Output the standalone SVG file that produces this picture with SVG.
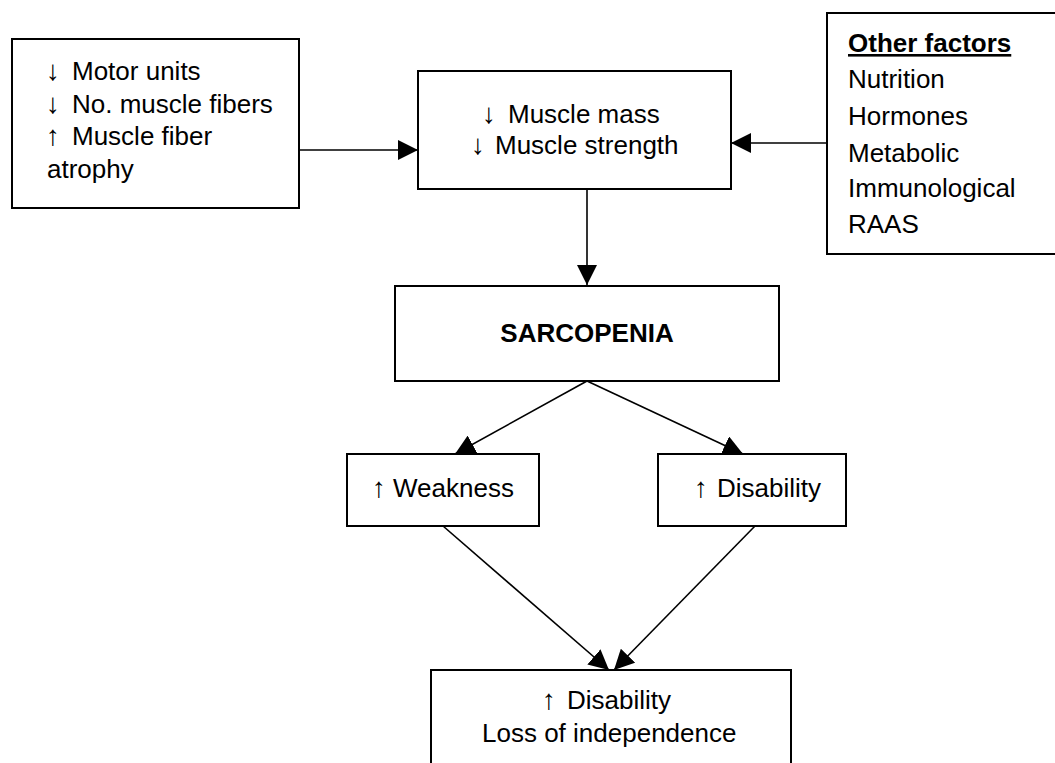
<svg xmlns="http://www.w3.org/2000/svg" width="1055" height="763" viewBox="0 0 1055 763">
<style>
.box{fill:#fff;stroke:#000;stroke-width:2}
.t{font-family:"Liberation Sans",Arial,sans-serif;font-size:26px;fill:#000}
.b{font-weight:bold}
.a{font-size:28px}
.c{stroke:#000;stroke-width:1.6;fill:none}
</style>
<defs>
<marker id="ah" markerUnits="userSpaceOnUse" markerWidth="20" markerHeight="20" refX="20" refY="10" orient="auto">
<path d="M0,0 L20,10 L0,20 z" fill="#000"/>
</marker>
</defs>
<rect width="1055" height="763" fill="#fff"/>
<g id="connectors">
<line class="c" x1="299" y1="150" x2="418" y2="150" marker-end="url(#ah)"/>
<line class="c" x1="827" y1="143" x2="731" y2="143" marker-end="url(#ah)"/>
<line class="c" x1="587" y1="189" x2="587" y2="285" marker-end="url(#ah)"/>
<line class="c" x1="587" y1="381" x2="455" y2="454" marker-end="url(#ah)"/>
<line class="c" x1="587" y1="381" x2="743" y2="454" marker-end="url(#ah)"/>
<line class="c" x1="443" y1="526" x2="609" y2="670" marker-end="url(#ah)"/>
<line class="c" x1="755" y1="526" x2="614" y2="670" marker-end="url(#ah)"/>
</g>
<g id="causes">
<rect class="box" x="12" y="39" width="287" height="169"/>
<text class="t" y="80"><tspan class="a" x="46">↓</tspan><tspan x="72">Motor units</tspan></text>
<text class="t" y="113"><tspan class="a" x="46">↓</tspan><tspan x="72">No. muscle fibers</tspan></text>
<text class="t" y="145"><tspan class="a" x="46">↑</tspan><tspan x="72">Muscle fiber</tspan></text>
<text class="t" x="47" y="178">atrophy</text>
</g>
<g id="muscle">
<rect class="box" x="418" y="71" width="313" height="118"/>
<text class="t" y="123"><tspan class="a" x="482">↓</tspan><tspan x="508">Muscle mass</tspan></text>
<text class="t" y="154"><tspan class="a" x="471">↓</tspan><tspan x="495">Muscle strength</tspan></text>
</g>
<g id="other">
<rect class="box" x="827" y="13" width="240" height="241"/>
<text class="t b" x="848" y="52" text-decoration="underline">Other factors</text>
<text class="t" x="848" y="88">Nutrition</text>
<text class="t" x="848" y="125">Hormones</text>
<text class="t" x="848" y="162">Metabolic</text>
<text class="t" x="848" y="197">Immunological</text>
<text class="t" x="848" y="233">RAAS</text>
</g>
<g id="sarcopenia">
<rect class="box" x="395" y="286" width="384" height="95"/>
<text class="t b" x="587" y="342" text-anchor="middle">SARCOPENIA</text>
</g>
<g id="weakness">
<rect class="box" x="347" y="454" width="192" height="72"/>
<text class="t" y="497"><tspan class="a" x="372">↑</tspan><tspan x="393">Weakness</tspan></text>
</g>
<g id="disability">
<rect class="box" x="658" y="454" width="188" height="72"/>
<text class="t" y="497"><tspan class="a" x="694">↑</tspan><tspan x="717">Disability</tspan></text>
</g>
<g id="outcome">
<rect class="box" x="431" y="670" width="360" height="110"/>
<text class="t" y="709"><tspan class="a" x="542">↑</tspan><tspan x="567">Disability</tspan></text>
<text class="t" x="482" y="742">Loss of independence</text>
</g>
</svg>
